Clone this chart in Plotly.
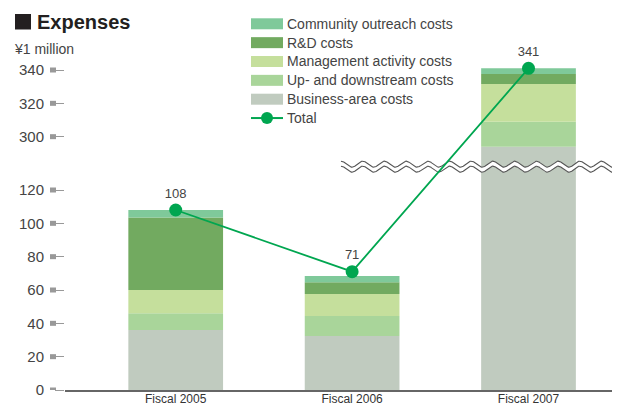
import numpy as np
import plotly.graph_objects as go

# ---------------- data ----------------
years = ["Fiscal 2005", "Fiscal 2006", "Fiscal 2007"]
business = [36, 32.4, 294]
updown = [10, 12, 15]
management = [14, 13.2, 22.6]
rnd = [43.5, 7, 6]
community = [4.5, 3.8, 3.4]
total = [108, 71, 341]

series_names = ["Business-area costs", "Up- and downstream costs",
                "Management activity costs", "R&D costs", "Community outreach costs"]
series_values = [business, updown, management, rnd, community]
series_colors = ["#c0cbbf", "#a9d59a", "#c5df9c", "#72aa60", "#7fc99a"]
total_color = "#00a650"

lower_ticks = [0, 20, 40, 60, 80, 100, 120]
upper_ticks = [300, 320, 340]

# axis break: values between BREAK_LOW and BREAK_HIGH are cut out
BREAK_LOW = 134
BREAK_HIGH = 282
OFFSET = BREAK_HIGH - BREAK_LOW


def tf(v):
    return v if v <= BREAK_LOW else v - OFFSET


# ---------------- geometry helpers ----------------
# the page body has an 8px margin, so figure pixel = page pixel - 8
PAD = 8
W, H = 612, 398
ML, MR, MT, MB = 65 - PAD, 3, 40 - PAD, 16
PW = W - ML - MR
PH = H - MT - MB


def px_x(p):
    return (p - PAD - ML) / PW


def px_y(p):
    return (H - MB - (p - PAD)) / PH


XR = [-0.6276, -0.6276 + PW / 176.4]
YR = [0, 210]

fig = go.Figure()

# stacked bars (through transformed axis)
bottoms = [0.0, 0.0, 0.0]
for name, vals, col in zip(series_names, series_values, series_colors):
    tops = [b + v for b, v in zip(bottoms, vals)]
    base = [tf(b) for b in bottoms]
    hgt = [tf(t) - tf(b) for t, b in zip(tops, bottoms)]
    fig.add_trace(go.Bar(x=[0, 1, 2], y=hgt, base=base, width=0.537, name=name,
                         marker=dict(color=col, line=dict(width=0)), showlegend=False))
    bottoms = tops

# break symbol (decoration): white band bounded by two wavy lines
px_per_x = PW / (XR[1] - XR[0])
px_per_y = PH / (YR[1] - YR[0])
wx = np.linspace((341 - PAD - ML) / px_per_x + XR[0], (615 - PAD - ML) / px_per_x + XR[0], 400)
period = 21.7 / px_per_x
amp = 3.0 / px_per_y
phase = np.cos(2 * np.pi * (wx - wx[0]) / period)
yc_top = tf(BREAK_LOW) + 1.5
yc_bot = tf(BREAK_LOW) - 1.5
y_top = yc_top + amp * phase
y_bot = yc_bot + amp * phase
fig.add_trace(go.Scatter(x=np.concatenate([wx, wx[::-1]]),
                         y=np.concatenate([y_top, y_bot[::-1]]),
                         fill="toself", fillcolor="white", mode="none",
                         hoverinfo="skip", showlegend=False))
for yy in (y_top, y_bot):
    fig.add_trace(go.Scatter(x=wx, y=yy, mode="lines", line=dict(color="#555", width=1.1),
                             hoverinfo="skip", showlegend=False))

# total line
fig.add_trace(go.Scatter(x=[0, 1, 2], y=[tf(v) for v in total], mode="lines+markers+text",
                         name="Total", text=[str(v) for v in total], textposition="top center",
                         textfont=dict(size=13, color="#444"),
                         marker=dict(size=13, color=total_color),
                         line=dict(color=total_color, width=1.8),
                         cliponaxis=False, showlegend=False))

ticks_all = lower_ticks + upper_ticks
shapes = []
annotations = []

# little grey squares on the y ticks
for t in ticks_all:
    shapes.append(dict(type="rect", xref="paper", yref="y", xsizemode="pixel", ysizemode="pixel",
                       xanchor=0, yanchor=tf(t), x0=-15, x1=-9, y0=-2.5, y1=2.5,
                       fillcolor="#999", line=dict(width=0)))

# manual legend
leg_rows = ["Community outreach costs", "R&D costs", "Management activity costs",
            "Up- and downstream costs", "Business-area costs"]
leg_cols = dict(zip(series_names, series_colors))
for i, nm in enumerate(leg_rows):
    yc = 23.8 + 18.85 * i
    shapes.append(dict(type="rect", xref="paper", yref="paper",
                       x0=px_x(251), x1=px_x(283), y0=px_y(yc + 5.5), y1=px_y(yc - 5.5),
                       fillcolor=leg_cols[nm], line=dict(width=0)))
    annotations.append(dict(xref="paper", yref="paper", x=px_x(285), y=px_y(yc), text=nm,
                            showarrow=False, xanchor="left", yanchor="middle",
                            font=dict(size=14, color="#444")))
yc = 23.8 + 18.85 * 5
shapes.append(dict(type="line", xref="paper", yref="paper", x0=px_x(251), x1=px_x(283),
                   y0=px_y(yc), y1=px_y(yc), line=dict(color=total_color, width=2)))
shapes.append(dict(type="circle", xref="paper", yref="paper", x0=px_x(261), x1=px_x(273),
                   y0=px_y(yc + 6), y1=px_y(yc - 6), fillcolor=total_color, line=dict(width=0)))
annotations.append(dict(xref="paper", yref="paper", x=px_x(285), y=px_y(yc), text="Total",
                        showarrow=False, xanchor="left", yanchor="middle",
                        font=dict(size=14, color="#444")))

# title block
shapes.append(dict(type="rect", xref="paper", yref="paper", x0=px_x(15), x1=px_x(31),
                   y0=px_y(29.5), y1=px_y(14), fillcolor="#231f20", line=dict(width=0)))
annotations.append(dict(xref="paper", yref="paper", x=px_x(35), y=px_y(22), text="<b>Expenses</b>",
                        showarrow=False, xanchor="left", yanchor="middle",
                        font=dict(size=20, color="#231f20")))
annotations.append(dict(xref="paper", yref="paper", x=px_x(12), y=px_y(49), text="¥1 million",
                        showarrow=False, xanchor="left", yanchor="middle",
                        font=dict(size=14, color="#444")))

fig.update_layout(
    width=W, height=H, margin=dict(l=ML, r=MR, t=MT, b=MB, autoexpand=False),
    paper_bgcolor="white", plot_bgcolor="white",
    font=dict(family="Liberation Sans, Arial, sans-serif", color="#444"),
    barmode="overlay", showlegend=False,
    shapes=shapes, annotations=annotations,
    xaxis=dict(range=XR, tickvals=[0, 1, 2], ticktext=years, showline=True,
               linecolor="#666", linewidth=1.5, ticks="", showgrid=False, zeroline=False,
               automargin=False, ticklabelstandoff=-3, tickfont=dict(size=12, color="#333")),
    yaxis=dict(range=YR, tickvals=[tf(t) for t in ticks_all], ticktext=[str(t) for t in ticks_all],
               ticks="outside", ticklen=9, tickcolor="#999", tickwidth=1, showgrid=False,
               zeroline=False, showline=False, ticklabelstandoff=8, automargin=False,
               tickfont=dict(size=15, color="#444")),
)

fig.write_html("out.html")
